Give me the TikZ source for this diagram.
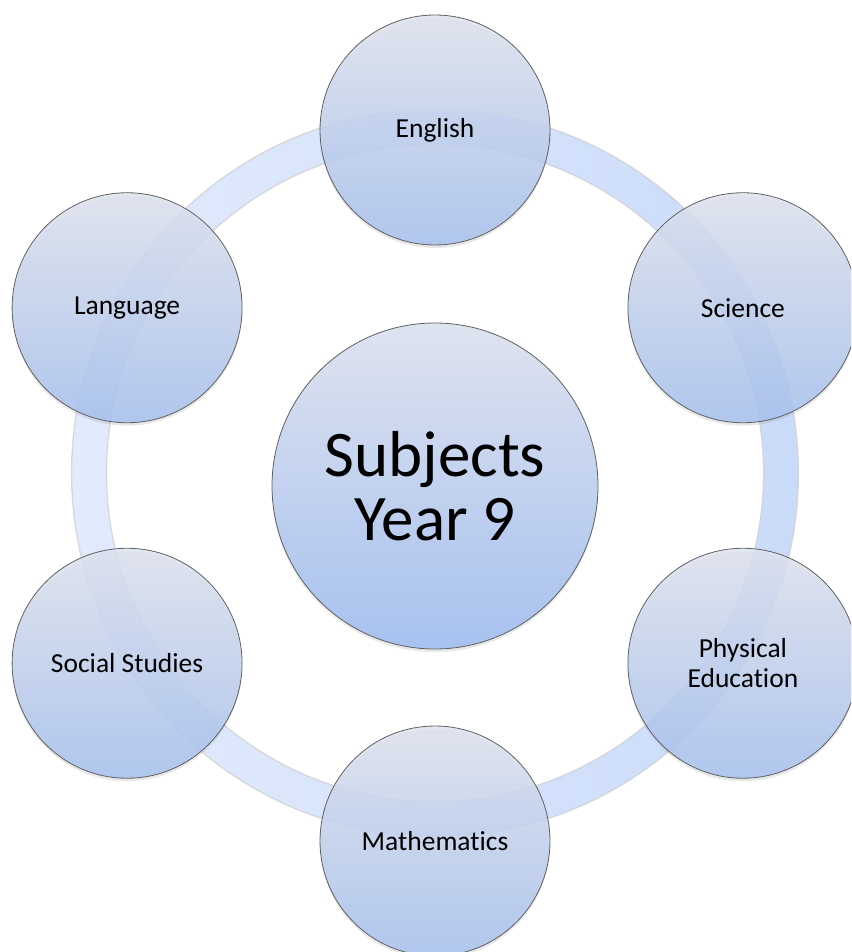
\documentclass[tikz,border=0pt]{standalone}
\usepackage{fontspec}
\setmainfont[Ligatures={NoCommon}]{Carlito}
\usetikzlibrary{shadows}
\definecolor{ctop}{HTML}{DEE3EF}
\definecolor{cbot}{HTML}{A7C1EF}
\definecolor{ringL}{HTML}{E2EBFC}
\definecolor{ringR}{HTML}{CADBFA}
\definecolor{cedge}{HTML}{606060}
\begin{document}
\begin{tikzpicture}[x=1pt,y=-1pt,
  subj/.style={circle, minimum size=230pt, inner sep=0pt, draw=cedge, line width=0.8pt,
    top color=ctop, bottom color=cbot, fill opacity=0.85, text opacity=1,
    font=\fontsize{27.5}{30}\selectfont, align=center,
    drop shadow={opacity=0.18, shadow xshift=0pt, shadow yshift=-3pt}},
  hub/.style={subj, minimum size=326pt, fill opacity=1, font=\fontsize{65}{64}\selectfont},
  ringedge/.style={draw=gray, draw opacity=0.3, line width=1.2pt}]
\useasboundingbox (0,0) rectangle (851,952);
\clip (0,0) rectangle (851,952);
\coordinate (rc) at (435,473);
\shade[even odd rule, left color=ringL, right color=ringR] (rc) circle (363) (rc) circle (329);
\path[ringedge] (rc) circle (363.5);
\path[ringedge] (rc) circle (328.5);
\node[hub] (hubc) at (435,486) {Subjects\\Year 9};
\node[subj] (eng) at (435,130) {English};
\node[subj] (sci) at (742.9,307.75) {Science};
\node[subj] (pe) at (742.9,663.25) {Physical\\Education};
\node[subj] (math) at (435,841) {Mathematics};
\node[subj] (soc) at (127.1,663.25) {Social Studies};
\node[subj] (lang) at (127.1,307.75) {Language};
\end{tikzpicture}
\end{document}
